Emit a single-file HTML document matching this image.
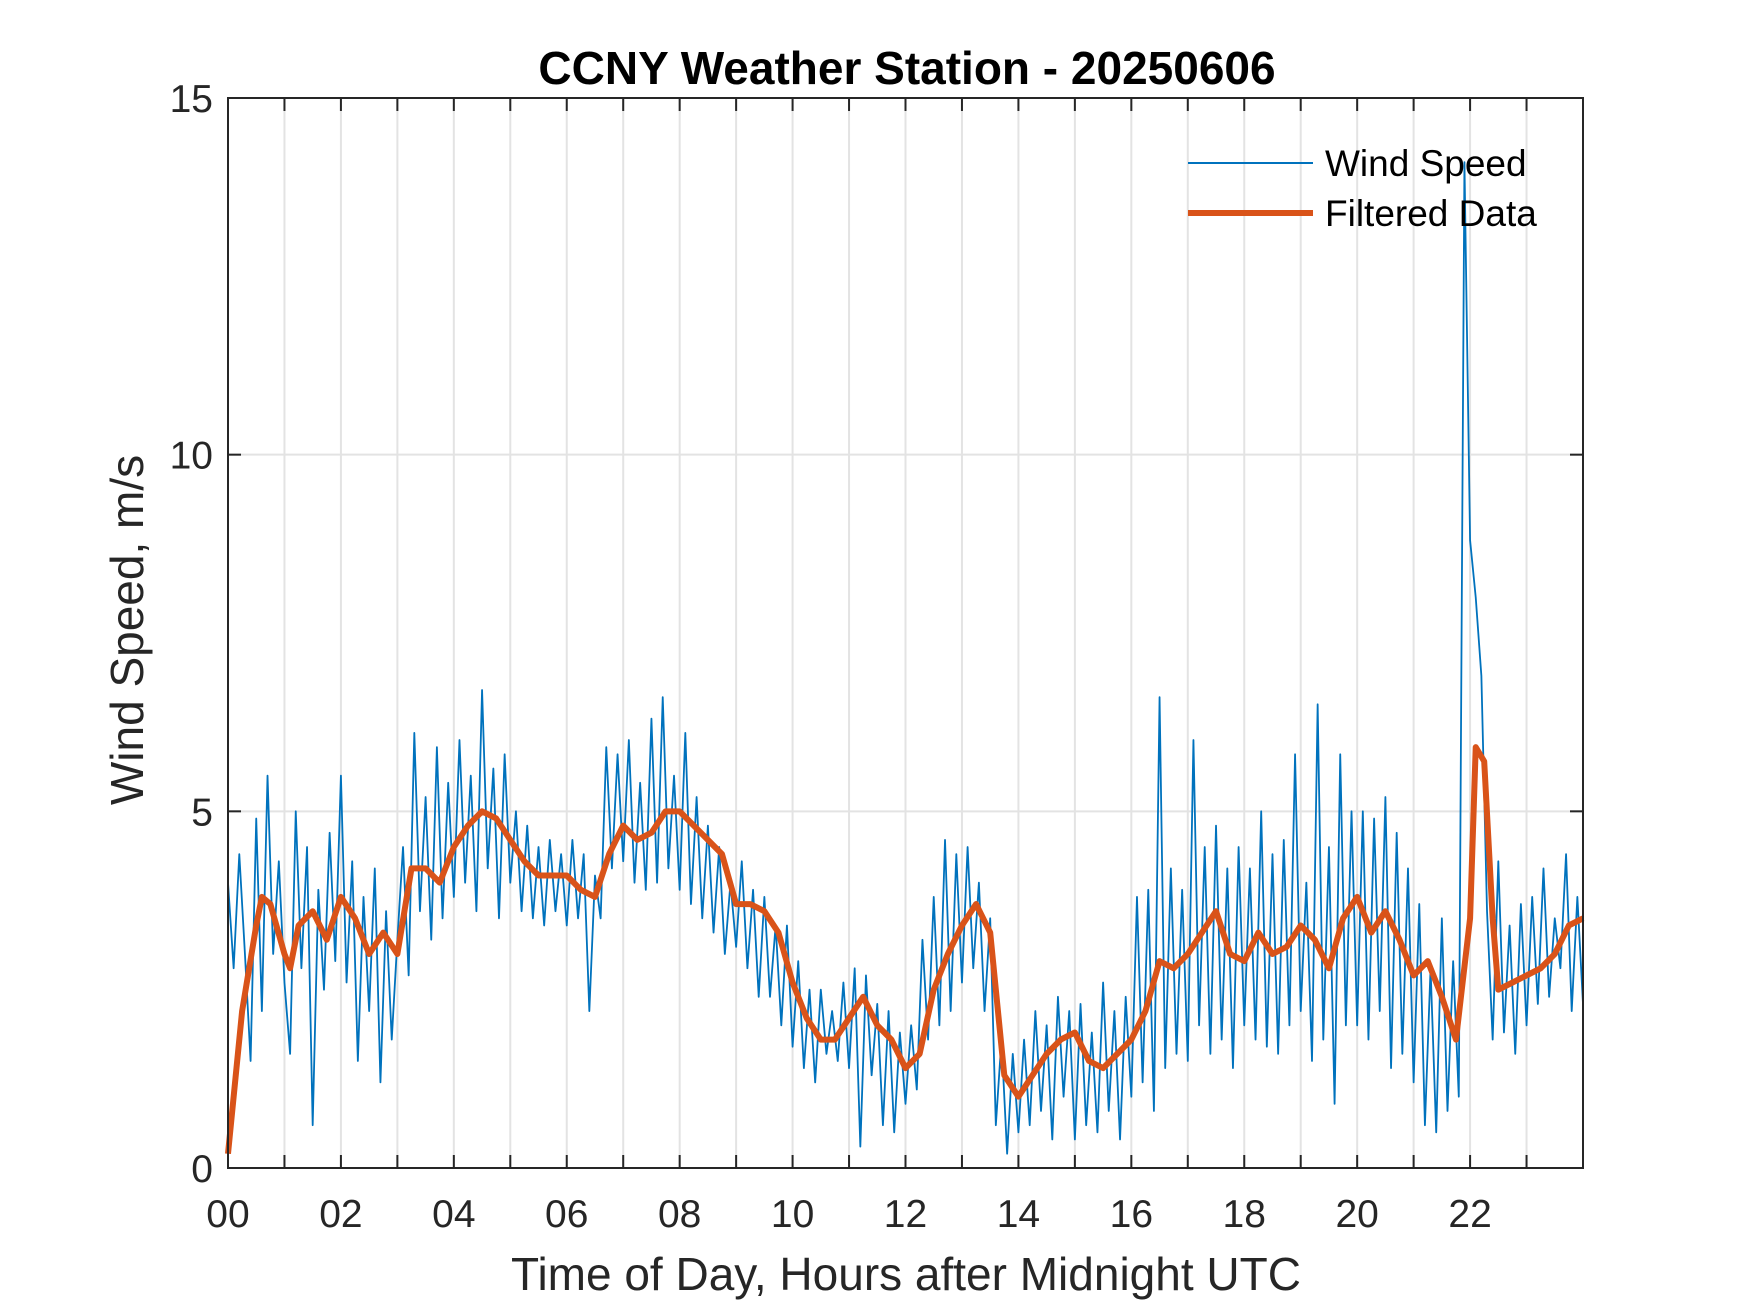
<!DOCTYPE html>
<html><head><meta charset="utf-8"><style>
body{margin:0;background:#fff;}
svg{display:block;font-family:"Liberation Sans",Arial,sans-serif;}
</style></head><body>
<svg id="chart" width="1750" height="1313" viewBox="0 0 1750 1313">
<rect width="1750" height="1313" fill="#fff"/>
<g id="grid"></g>
<g id="series"></g>
<g id="axes"></g>
</svg>
<script>
const hours=[];
const xTickLabels=["00","02","04","06","08","10","12","14","16","18","20","22"];
const yTicks=[0,5,10,15];
const windSpeed=[
4.0,2.8,4.4,3.0,1.5,4.9,2.2,5.5,3.0,4.3,
2.6,1.6,5.0,2.8,4.5,0.6,3.9,2.5,4.7,2.9,
5.5,2.6,4.3,1.5,3.8,2.2,4.2,1.2,3.6,1.8,
3.2,4.5,2.7,6.1,3.6,5.2,3.2,5.9,3.5,5.4,
3.8,6.0,4.0,5.5,3.6,6.7,4.2,5.6,3.5,5.8,
4.0,5.0,3.6,4.8,3.5,4.5,3.4,4.6,3.6,4.4,
3.4,4.6,3.5,4.4,2.2,4.1,3.5,5.9,4.2,5.8,
4.3,6.0,4.0,5.4,3.9,6.3,4.0,6.6,4.2,5.5,
3.9,6.1,3.7,5.2,3.5,4.8,3.3,4.5,3.0,4.0,
3.1,4.3,2.8,3.9,2.4,3.8,2.4,3.4,2.0,3.4,
1.7,2.9,1.4,2.5,1.2,2.5,1.6,2.2,1.5,2.6,
1.4,2.8,0.3,2.7,1.3,2.3,0.6,2.2,0.5,1.9,
0.9,2.0,1.1,3.2,1.8,3.8,2.0,4.6,2.2,4.4,
2.6,4.5,2.8,4.0,2.2,3.5,0.6,1.8,0.2,1.6,
0.5,1.8,0.6,2.2,0.8,2.0,0.4,2.4,1.0,2.2,
0.4,2.3,0.6,1.9,0.5,2.6,0.8,2.2,0.4,2.4,
1.0,3.8,1.2,3.9,0.8,6.6,1.4,4.2,1.6,3.9,
1.5,6.0,2.0,4.5,1.6,4.8,1.8,4.2,1.4,4.5,
2.0,4.2,1.8,5.0,1.7,4.4,1.6,4.6,2.0,5.8,
2.2,4.0,1.5,6.5,1.8,4.5,0.9,5.8,2.0,5.0,
2.0,5.0,1.8,4.9,2.2,5.2,1.4,4.7,1.6,4.2,
1.2,3.7,0.6,2.8,0.5,3.5,0.8,2.9,1.0,14.1,
8.8,8.0,6.9,3.6,1.8,4.3,1.9,3.4,1.6,3.7,
2.0,3.8,2.3,4.2,2.4,3.5,2.8,4.4,2.2,3.8,
2.3];
const filtHours=[0,0.25,0.5,0.6,0.75,1.0,1.1,1.25,1.5,1.75,2.0,2.25,2.5,2.75,3.0,3.25,3.5,3.75,4.0,4.25,4.5,4.75,5.0,5.25,5.5,5.75,6.0,6.25,6.5,6.75,7.0,7.25,7.5,7.75,8.0,8.25,8.5,8.75,9.0,9.25,9.5,9.75,10.0,10.25,10.5,10.75,11.0,11.25,11.5,11.75,12.0,12.25,12.5,12.75,13.0,13.25,13.5,13.75,14.0,14.25,14.5,14.75,15.0,15.25,15.5,15.75,16.0,16.25,16.5,16.75,17.0,17.25,17.5,17.75,18.0,18.25,18.5,18.75,19.0,19.25,19.5,19.75,20.0,20.25,20.5,20.75,21.0,21.25,21.5,21.75,22.0,22.1,22.25,22.4,22.5,22.75,23.0,23.25,23.5,23.75,24.0];
const filtered=[0.2,2.2,3.4,3.8,3.7,3.0,2.8,3.4,3.6,3.2,3.8,3.5,3.0,3.3,3.0,4.2,4.2,4.0,4.5,4.8,5.0,4.9,4.6,4.3,4.1,4.1,4.1,3.9,3.8,4.4,4.8,4.6,4.7,5.0,5.0,4.8,4.6,4.4,3.7,3.7,3.6,3.3,2.6,2.1,1.8,1.8,2.1,2.4,2.0,1.8,1.4,1.6,2.5,3.0,3.4,3.7,3.3,1.3,1.0,1.3,1.6,1.8,1.9,1.5,1.4,1.6,1.8,2.2,2.9,2.8,3.0,3.3,3.6,3.0,2.9,3.3,3.0,3.1,3.4,3.2,2.8,3.5,3.8,3.3,3.6,3.2,2.7,2.9,2.4,1.8,3.5,5.9,5.7,3.5,2.5,2.6,2.7,2.8,3.0,3.4,3.5];
for(let i=0;i<windSpeed.length;i++)hours.push(i*0.1);

const L=228,R=1583,T=98,B=1168;
const X=h=>L+(R-L)*h/24;
const Y=v=>B-(B-T)*v/15;
const NS="http://www.w3.org/2000/svg";
function mk(tag,attrs,parent,text){const e=document.createElementNS(NS,tag);for(const k in attrs)e.setAttribute(k,attrs[k]);if(text!==undefined)e.textContent=text;parent.appendChild(e);return e;}
const grid=document.getElementById('grid'),series=document.getElementById('series'),axes=document.getElementById('axes');

for(let h=1;h<24;h++){
  const g=mk('line',{x1:X(h),x2:X(h),y1:T,y2:B,stroke:'#e3e3e3','stroke-width':2},grid);
  
  
}
for(const v of yTicks.slice(1,3)){
  const g=mk('line',{x1:L,x2:R,y1:Y(v),y2:Y(v),stroke:'#e3e3e3','stroke-width':2},grid);
  
  
}
const wp=mk('polyline',{points:windSpeed.map((v,i)=>X(hours[i])+','+Y(v)).join(' '),fill:'none',stroke:'#0072BD','stroke-width':1.8,'stroke-linejoin':'round'},series);


const fp=mk('polyline',{points:filtered.map((v,i)=>X(filtHours[i])+','+Y(v)).join(' '),fill:'none',stroke:'#D95319','stroke-width':6,'stroke-linejoin':'round'},series);



const box=mk('rect',{x:L,y:T,width:R-L,height:B-T,fill:'none',stroke:'#262626','stroke-width':2},axes);


for(let h=0;h<24;h++){
  mk('line',{x1:X(h),x2:X(h),y1:B,y2:B-13,stroke:'#262626','stroke-width':2},axes);
  mk('line',{x1:X(h),x2:X(h),y1:T,y2:T+13,stroke:'#262626','stroke-width':2},axes);
}
xTickLabels.forEach((t,i)=>{
  const e=mk('text',{x:X(i*2),y:1227,'text-anchor':'middle','font-size':39,fill:'#262626'},axes,t);
  
  
});
yTicks.forEach(v=>{
  mk('line',{x1:L,x2:L+13,y1:Y(v),y2:Y(v),stroke:'#262626','stroke-width':2},axes);
  mk('line',{x1:R,x2:R-13,y1:Y(v),y2:Y(v),stroke:'#262626','stroke-width':2},axes);
  const e=mk('text',{x:213,y:Y(v)+14,'text-anchor':'end','font-size':39,fill:'#262626'},axes,String(v));
  
  
});
const tt=mk('text',{x:907,y:84,'text-anchor':'middle','font-size':46,'font-weight':'bold',fill:'#000'},axes,'CCNY Weather Station - 20250606');


const xl=mk('text',{x:906,y:1290,'text-anchor':'middle','font-size':46,fill:'#262626'},axes,'Time of Day, Hours after Midnight UTC');


const yl=mk('text',{x:0,y:0,'text-anchor':'middle','font-size':46,fill:'#262626',transform:'translate(143,630) rotate(-90)'},axes,'Wind Speed, m/s');



const lg=mk('g',{},axes);


mk('line',{x1:1188,x2:1313,y1:163,y2:163,stroke:'#0072BD','stroke-width':2},lg);
const l1=mk('text',{x:1325,y:176,'font-size':37,fill:'#000'},lg,'Wind Speed');


mk('line',{x1:1188,x2:1313,y1:213,y2:213,stroke:'#D95319','stroke-width':6},lg);
const l2=mk('text',{x:1325,y:226,'font-size':37,fill:'#000'},lg,'Filtered Data');


</script>
</body></html>
